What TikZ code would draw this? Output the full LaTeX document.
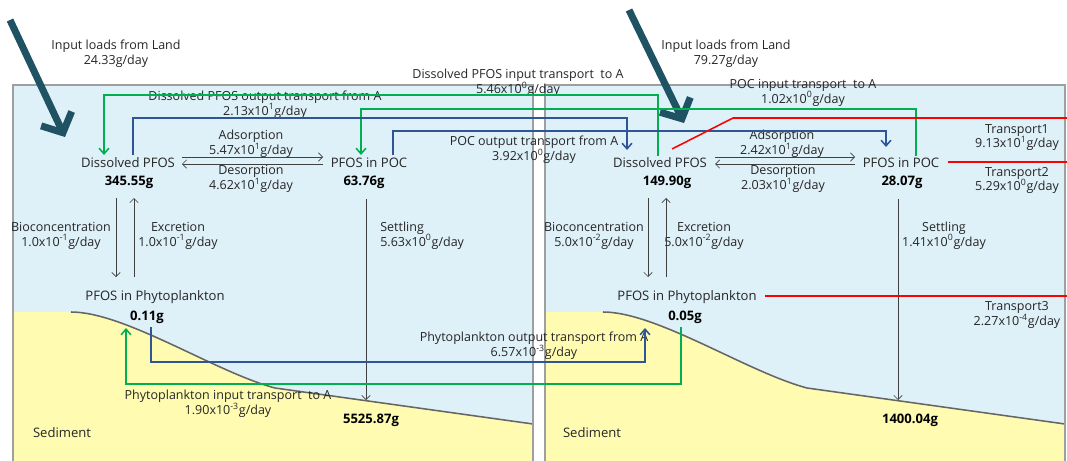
\documentclass[tikz,border=0pt]{standalone}
\usepackage{fontspec}
\setmainfont{Open Sans}
\usetikzlibrary{arrows.meta, calc}

\definecolor{water}{RGB}{222,240,248}
\definecolor{sediment}{RGB}{255,252,178}
\definecolor{loadcol}{RGB}{31,82,99}
\definecolor{incol}{RGB}{0,176,80}
\definecolor{outcol}{RGB}{47,85,151}

\begin{document}
\begin{tikzpicture}[x=0.025cm, y=-0.025cm,
    txt/.style={font=\fontsize{8.9}{10.6}\selectfont, align=center, inner sep=0pt, text=black!85},
    comp/.style={font=\fontsize{9.3}{11}\selectfont, inner sep=0pt, text=black!85},
    amount/.style={font=\fontsize{9.3}{11}\selectfont\bfseries, inner sep=0pt},
    flow/.style={draw=black!75, line width=0.5pt, -{Straight Barb[length=3pt,width=6pt]}},
    inflow/.style={draw=incol, line width=1.1pt, -{Straight Barb[length=4pt,width=7pt]}},
    outflow/.style={draw=outcol, line width=1.1pt, -{Straight Barb[length=4pt,width=7pt]}},
    export/.style={draw=red, line width=1.1pt, -{Straight Barb[length=4pt,width=8pt]}},
    load/.style={draw=loadcol, line width=5pt, -{Straight Barb[length=11pt,width=24pt]}}]
  \useasboundingbox (0,0) rectangle (1067,461);
  \clip (0,0) rectangle (1067,461);

  % Water bodies
  \fill[water] (13,85) rectangle (533,470);
  \fill[water] (545,85) rectangle (1065,470);

  % Sediment
  \foreach \dx in {0,532} {
    \fill[sediment] (13+\dx,312) -- (71+\dx,312)
      .. controls (125+\dx,312) and (215+\dx,372) .. (275+\dx,388)
      -- (533+\dx,424) -- (533+\dx,470) -- (13+\dx,470) -- cycle;
    \draw[black!60, line width=1.1pt] (71+\dx,312)
      .. controls (125+\dx,312) and (215+\dx,372) .. (275+\dx,388)
      -- (533+\dx,424);
  }

  % Frames
  \draw[gray!75, line width=1.3pt] (13,85) rectangle (533,470);
  \draw[gray!75, line width=1.3pt] (545,85) rectangle (1065,470);

  % Compartments of A
  \node[comp] (dpA) at (128,163) {Dissolved PFOS};
  \node[amount] (dpAv) at (129,182) {345.55g};
  \node[comp] (pocA) at (369,163) {PFOS in POC};
  \node[amount] (pocAv) at (364,182) {63.76g};
  \node[comp] (phyA) at (155,297) {PFOS in Phytoplankton};
  \node[amount] (phyAv) at (147,317) {0.11g};
  \node[amount] (sedAv) at (371,420) {5525.87g};
  \node[comp] (sedA) at (62,433) {Sediment};

  % Compartments of the other area
  \node[comp] (dpB) at (660,163) {Dissolved PFOS};
  \node[amount] (dpBv) at (667,182) {149.90g};
  \node[comp] (pocB) at (901,163) {PFOS in POC};
  \node[amount] (pocBv) at (902,182) {28.07g};
  \node[comp] (phyB) at (687,297) {PFOS in Phytoplankton};
  \node[amount] (phyBv) at (685,317) {0.05g};
  \node[amount] (sedBv) at (910,420) {1400.04g};
  \node[comp] (sedB) at (592,433) {Sediment};

  % Flow labels
  \node[txt] (loadAtxt) at (116,54) {Input loads from Land\\24.33g/day};
  \node[txt] (loadBtxt) at (726,54) {Input loads from Land\\79.27g/day};
  \node[txt] (dinAtxt) at (518,83) {Dissolved PFOS input transport\ \ to A\\5.46x10\textsuperscript{0}g/day};
  \node[txt] (doutAtxt) at (265,104.5) {Dissolved PFOS output transport from A\\2.13x10\textsuperscript{1}g/day};
  \node[txt] (pinAtxt) at (803,92.5) {POC input transport\ \ to A\\1.02x10\textsuperscript{0}g/day};
  \node[txt] (poutAtxt) at (534,150) {POC output transport from A\\3.92x10\textsuperscript{0}g/day};
  \node[txt] (adsAtxt) at (251,144) {Adsorption\\5.47x10\textsuperscript{1}g/day};
  \node[txt] (desAtxt) at (251,179) {Desorption\\4.62x10\textsuperscript{1}g/day};
  \node[txt] (adsBtxt) at (782,144) {Adsorption\\2.42x10\textsuperscript{1}g/day};
  \node[txt] (desBtxt) at (783,179) {Desorption\\2.03x10\textsuperscript{1}g/day};
  \node[txt] (bioAtxt) at (61,235.5) {Bioconcentration\\1.0x10\textsuperscript{-1}g/day};
  \node[txt] (excAtxt) at (178,235.5) {Excretion\\1.0x10\textsuperscript{-1}g/day};
  \node[txt] (bioBtxt) at (594,235.5) {Bioconcentration\\5.0x10\textsuperscript{-2}g/day};
  \node[txt] (excBtxt) at (704,235.5) {Excretion\\5.0x10\textsuperscript{-2}g/day};
  \node[txt, anchor=west, align=left] (setAtxt) at (380,235.5) {Settling\\5.63x10\textsuperscript{0}g/day};
  \node[txt] (setBtxt) at (944,235.5) {Settling\\1.41x10\textsuperscript{0}g/day};
  \node[txt] (tr1txt) at (1017,137.5) {Transport1\\9.13x10\textsuperscript{1}g/day};
  \node[txt] (tr2txt) at (1017,180.5) {Transport2\\5.29x10\textsuperscript{0}g/day};
  \node[txt] (tr3txt) at (1017,315) {Transport3\\2.27x10\textsuperscript{-4}g/day};
  \node[txt] (phinAtxt) at (228,404) {Phytoplankton input transport\ \ to A\\1.90x10\textsuperscript{-3}g/day};
  \node[txt] (phoutAtxt) at (534,346) {Phytoplankton output transport from A\\6.57x10\textsuperscript{-3}g/day};

  % Loads from land
  \coordinate (landA) at (10,20);
  \coordinate (landB) at (629,10);
  \draw[load] (landA) -- ($(dpA)+(-63,-26)$);
  \draw[load] (landB) -- ($(dpB)+(24,-40)$);

  % Exchange within each area
  \draw[flow] ($(dpA)+(54,-6)$) -- ($(pocA)+(-46,-6)$);
  \draw[flow] ($(pocA)+(-46,1)$) -- ($(dpA)+(54,1)$);
  \draw[flow] ($(dpB)+(55,-6)$) -- ($(pocB)+(-46,-6)$);
  \draw[flow] ($(pocB)+(-46,1)$) -- ($(dpB)+(55,1)$);
  \draw[flow] ($(dpAv)+(-13,16)$) -- ($(phyA)+(-39,-20)$);
  \draw[flow] ($(phyA)+(-21,-20)$) -- ($(dpAv)+(5,16)$);
  \draw[flow] ($(dpBv)+(-19,16)$) -- ($(phyB)+(-39,-20)$);
  \draw[flow] ($(phyB)+(-21,-20)$) -- ($(dpBv)+(-1,16)$);
  \draw[flow] ($(pocAv)+(2,17)$) -- ($(sedAv)+(-5,-20)$);
  \draw[flow] ($(pocBv)+(-4,17)$) -- ($(sedBv)+(-12,-20)$);

  % Transport into A
  \draw[inflow] ($(dpB)+(-2,-7)$) -- ++(0,-61) -| ($(dpA)+(-24,-8)$);
  \draw[inflow] ($(pocB)+(15,-7)$) -- ++(0,-47) -| ($(pocA)+(-8,-8)$);
  \draw[inflow] ($(phyBv)+(-4,10)$) -- ++(0,57) -| ($(phyAv)+(-21,11)$);

  % Transport out of A
  \draw[outflow] ($(dpA)+(5,-8)$) -- ++(0,-37) -| ($(dpB)+(-33,-13)$);
  \draw[outflow] ($(pocA)+(24,-8)$) -- ++(0,-24) -| ($(pocB)+(-15,-16)$);
  \draw[outflow] ($(phyAv)+(4,10)$) -- ++(0,35) -| ($(phyBv)+(-40,11)$);

  % Transport out of the other area
  \coordinate (exit1) at (1074,118);
  \coordinate (exit2) at (1074,162);
  \coordinate (exit3) at (1074,296);
  \draw[export] ($(dpB)+(12,-14)$) -- ++(61,-31) -- (exit1);
  \draw[export] ($(pocB)+(47,-1)$) -- (exit2);
  \draw[export] ($(phyB)+(78,-1)$) -- (exit3);
\end{tikzpicture}
\end{document}
